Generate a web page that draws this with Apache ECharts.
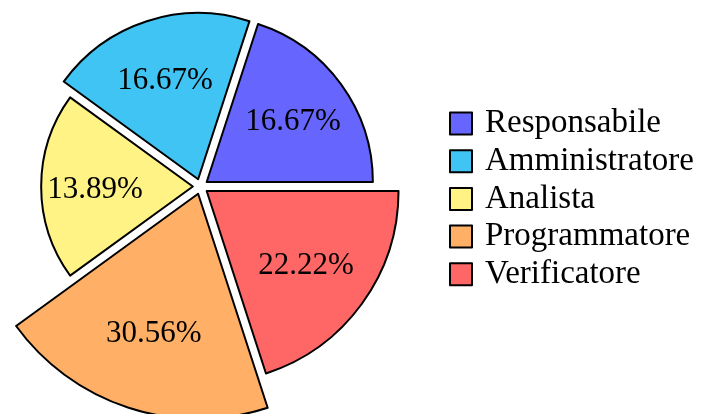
<!DOCTYPE html>
<html>
<head>
<meta charset="utf-8">
<script src="https://cdn.jsdelivr.net/npm/echarts@6/dist/echarts.min.js"></script>
<style>
html,body{margin:0;padding:0;background:#fff;}
#chart{width:704px;height:414px;}
</style>
</head>
<body>
<div id="chart"></div>
<script>
const categories = ['Responsabile', 'Amministratore', 'Analista', 'Programmatore', 'Verificatore'];
const percentages = [16.67, 16.67, 13.89, 30.56, 22.22];
const colors = ['#6666FF', '#40C4F3', '#FFF385', '#FFB066', '#FF6666'];

// slice area proportional to value: radius ~ sqrt(value)
const sliceData = categories.map((name, i) => ({
  name: name,
  value: Math.sqrt(percentages[i]),
  selected: true
}));

const FONT = 'Liberation Serif';
const center = [200.5, 186.5];
const labelCenter = [200.5, 189.5];
const R = 225;

const chart = echarts.init(document.getElementById('chart'), null, {renderer: 'canvas'});
chart.setOption({
  animation: false,
  color: colors,
  legend: {
    orient: 'vertical',
    left: 444,
    top: 102,
    padding: 5,
    itemWidth: 22,
    itemHeight: 22,
    itemGap: 4.7,
    icon: 'rect',
    data: categories,
    selectedMode: false,
    itemStyle: {borderColor: '#000', borderWidth: 2},
    textStyle: {fontFamily: FONT, fontSize: 33, color: '#000', padding: [0, 0, 0, 8]}
  },
  series: [
    {
      type: 'pie',
      roseType: 'area',
      center: center,
      radius: [0, R],
      startAngle: 0,
      clockwise: false,
      selectedMode: 'multiple',
      selectedOffset: 7.65,
      avoidLabelOverlap: false,
      silent: true,
      emphasis: {disabled: true},
      itemStyle: {borderColor: '#000', borderWidth: 2},
      select: {itemStyle: {borderColor: '#000', borderWidth: 2}},
      label: {show: false},
      labelLine: {show: false},
      data: sliceData
    },
    {
      type: 'pie',
      roseType: 'area',
      center: labelCenter,
      radius: [0, R * 1.25],
      startAngle: 0,
      clockwise: false,
      selectedMode: 'multiple',
      selectedOffset: 7.65,
      avoidLabelOverlap: false,
      silent: true,
      emphasis: {disabled: true},
      itemStyle: {color: 'rgba(0,0,0,0)', borderWidth: 0},
      select: {itemStyle: {color: 'rgba(0,0,0,0)', borderWidth: 0}},
      label: {
        show: true,
        position: 'inside',
        fontFamily: FONT,
        fontSize: 31,
        color: '#000',
        formatter: p => percentages[p.dataIndex].toFixed(2) + '%'
      },
      labelLine: {show: false},
      data: sliceData
    }
  ]
});
</script>
</body>
</html>
